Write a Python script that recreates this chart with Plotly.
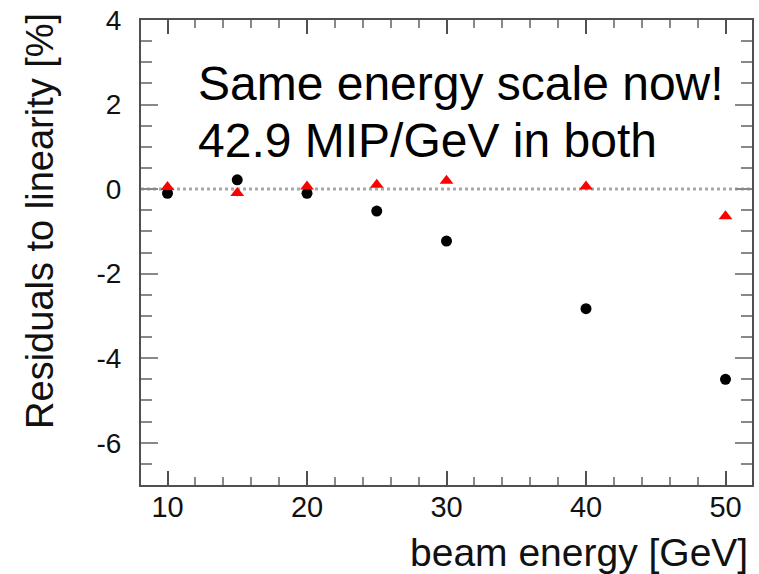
import plotly.graph_objects as go

energies = [10, 15, 20, 25, 30, 40, 50]
resid_black = [-0.10, 0.22, -0.10, -0.52, -1.23, -2.83, -4.50]
err_black = [0.06, 0.06, 0.06, 0.08, 0.10, 0.10, 0.06]
resid_red = [0.05, -0.09, 0.06, 0.10, 0.20, 0.06, -0.64]
err_red = [0.08, 0.08, 0.06, 0.05, 0.05, 0.05, 0.05]

x_ticks = [10, 20, 30, 40, 50]
y_ticks = [-6, -4, -2, 0, 2, 4]

FONT = "Liberation Sans, Arial, Helvetica, sans-serif"
FRAME = "#505050"

fig = go.Figure()
fig.add_shape(type="line", xref="paper", yref="y", x0=0, x1=1, y0=0, y1=0,
              line=dict(color="#a8a8a8", width=3, dash="dot"), layer="below")

fig.add_trace(go.Scatter(
    x=energies, y=resid_black, mode="markers",
    marker=dict(symbol="circle", size=11, color="black"),
    error_y=dict(type="data", array=err_black, color="black", thickness=1.5, width=0),
    showlegend=False))
fig.add_trace(go.Scatter(
    x=energies, y=resid_red, mode="markers",
    marker=dict(symbol="triangle-up", size=12, color="#ff0000"),
    error_y=dict(type="data", array=err_red, color="#ff0000", thickness=1.5, width=0),
    showlegend=False))

fig.update_layout(
    width=759, height=574,
    margin=dict(l=141, r=5, t=19, b=89),
    paper_bgcolor="white", plot_bgcolor="white",
    font=dict(family=FONT, color="black"),
    xaxis=dict(range=[8.1, 51.9], tickvals=x_ticks, ticktext=[str(v) for v in x_ticks],
               showgrid=False, zeroline=False,
               showline=True, linecolor=FRAME, linewidth=2, mirror="ticks",
               ticks="inside", ticklen=14, tickwidth=2, tickcolor=FRAME,
               tickfont=dict(size=29, family=FONT, color="#111"),
               ticklabelstandoff=-5,
               minor=dict(dtick=2, tick0=0, ticks="inside", ticklen=8, tickwidth=1.5,
                          tickcolor="#888", showgrid=False)),
    yaxis=dict(range=[-7, 4], tickvals=y_ticks, ticktext=[str(v) for v in y_ticks],
               showgrid=False, zeroline=False,
               showline=True, linecolor=FRAME, linewidth=2, mirror="ticks",
               ticks="inside", ticklen=17, tickwidth=2, tickcolor="#888",
               tickfont=dict(size=28, family=FONT, color="#111"),
               ticklabelstandoff=12,
               minor=dict(dtick=0.5, tick0=0, ticks="inside", ticklen=11, tickwidth=1.5,
                          tickcolor="#888", showgrid=False)),
)

def px_to_paper_x(px):
    return (px - 141) / 613.0

def px_to_paper_y(py):
    return (485 - py) / 466.0

fig.add_annotation(text="Same energy scale now!", xref="paper", yref="paper",
                   x=px_to_paper_x(196), y=px_to_paper_y(83), xanchor="left", yanchor="middle",
                   showarrow=False, font=dict(size=48, family=FONT, color="black"))
fig.add_annotation(text="42.9 MIP/GeV in both", xref="paper", yref="paper",
                   x=px_to_paper_x(196), y=px_to_paper_y(140), xanchor="left", yanchor="middle",
                   showarrow=False, font=dict(size=48, family=FONT, color="black"))
fig.add_annotation(text="beam energy [GeV]", xref="paper", yref="paper",
                   x=px_to_paper_x(752), y=px_to_paper_y(553), xanchor="right", yanchor="middle",
                   showarrow=False, font=dict(size=39, family=FONT, color="#111"))
fig.add_annotation(text="Residuals to linearity [%]", xref="paper", yref="paper",
                   x=px_to_paper_x(39), y=px_to_paper_y(220), xanchor="center", yanchor="middle",
                   textangle=-90,
                   showarrow=False, font=dict(size=38, family=FONT, color="#111"))

fig.write_html("out.html")
